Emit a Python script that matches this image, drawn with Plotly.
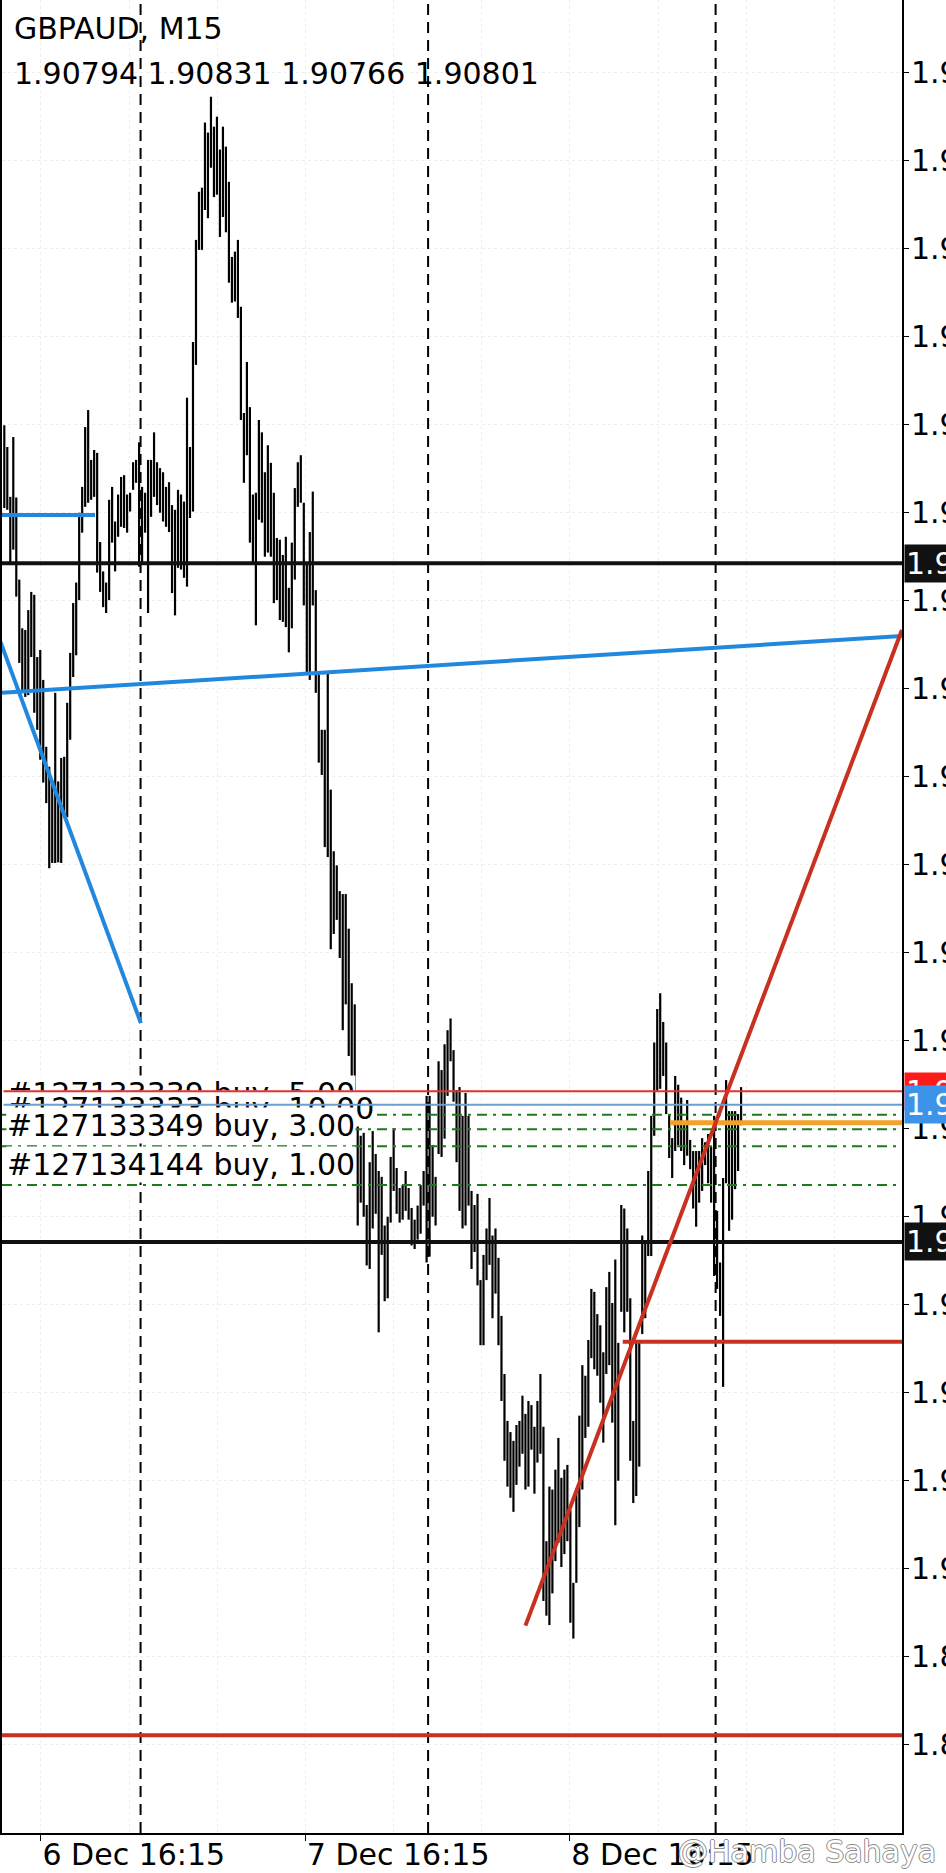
import plotly.graph_objects as go

# ---------------- data ----------------
symbol = "GBPAUD, M15"
last_ohlc = [1.90794, 1.90831, 1.90766, 1.90801]  # open, high, low, close of last bar

highs = [
    1.91959, 1.91922, 1.91837, 1.91939, 1.91836, 1.91696, 1.91613, 1.91610, 1.91644, 1.91675,
    1.91670, 1.91564, 1.91576, 1.91525, 1.91411, 1.91377, 1.91350, 1.91503, 1.91352, 1.91392,
    1.91394, 1.91486, 1.91571, 1.91656, 1.91691, 1.91810, 1.91854, 1.91956, 1.91985, 1.91900,
    1.91917, 1.91912, 1.91760, 1.91710, 1.91691, 1.91832, 1.91854, 1.91795, 1.91841, 1.91871,
    1.91874, 1.91841, 1.91844, 1.91896, 1.91900, 1.91930, 1.91854, 1.91844, 1.91900, 1.91900,
    1.91947, 1.91896, 1.91886, 1.91879, 1.91854, 1.91862, 1.91823, 1.91815, 1.91849, 1.91841,
    1.91829, 1.92006, 1.91922, 1.92101, 1.92275, 1.92357, 1.92364, 1.92475, 1.92458, 1.92519,
    1.92468, 1.92485, 1.92429, 1.92468, 1.92434, 1.92374, 1.92246, 1.92255, 1.92275, 1.92161,
    1.91980, 1.92067, 1.91990, 1.91841, 1.91844, 1.91968, 1.91947, 1.91879, 1.91925, 1.91895,
    1.91844, 1.91767, 1.91764, 1.91738, 1.91769, 1.91682, 1.91759, 1.91852, 1.91896, 1.91908,
    1.91827, 1.91726, 1.91777, 1.91846, 1.91678, 1.91537, 1.91440, 1.91440, 1.91537, 1.91338,
    1.91233, 1.91209, 1.91165, 1.91160, 1.91160, 1.91101, 1.91008, 1.90972, 1.90816, 1.90748,
    1.90753, 1.90630, 1.90703, 1.90756, 1.90717, 1.90688, 1.90678, 1.90595, 1.90610, 1.90712,
    1.90761, 1.90693, 1.90659, 1.90664, 1.90688, 1.90659, 1.90625, 1.90605, 1.90629, 1.90664,
    1.90688, 1.90816, 1.90816, 1.90732, 1.90678, 1.90875, 1.90860, 1.90904, 1.90928, 1.90948,
    1.90894, 1.90826, 1.90831, 1.90782, 1.90821, 1.90782, 1.90654, 1.90630, 1.90649, 1.90502,
    1.90545, 1.90590, 1.90642, 1.90578, 1.90590, 1.90540, 1.90441, 1.90342, 1.90262, 1.90243,
    1.90228, 1.90255, 1.90262, 1.90305, 1.90274, 1.90296, 1.90289, 1.90252, 1.90296, 1.90342,
    1.90252, 1.90057, 1.90150, 1.90145, 1.90179, 1.90233, 1.90165, 1.90179, 1.90187, 1.90110,
    1.89986, 1.90141, 1.90271, 1.90357, 1.90339, 1.90400, 1.90487, 1.90482, 1.90444, 1.90425,
    1.90379, 1.90490, 1.90516, 1.90463, 1.90537, 1.90395, 1.90630, 1.90624, 1.90590, 1.90471,
    1.90262, 1.90400, 1.90400, 1.90578, 1.90566, 1.90688, 1.90782, 1.90907, 1.90964, 1.90991,
    1.90942, 1.90907, 1.90785, 1.90744, 1.90850, 1.90835, 1.90813, 1.90772, 1.90809, 1.90741,
    1.90722, 1.90722, 1.90722, 1.90744, 1.90737, 1.90751, 1.90729, 1.90782, 1.90620, 1.90532,
    1.90676, 1.90843, 1.90790, 1.90790, 1.90790, 1.90785, 1.90831,
]

lows = [
    1.91818, 1.91815, 1.91725, 1.91747, 1.91667, 1.91554, 1.91508, 1.91496, 1.91499, 1.91564,
    1.91469, 1.91440, 1.91389, 1.91350, 1.91315, 1.91204, 1.91213, 1.91213, 1.91214, 1.91213,
    1.91291, 1.91291, 1.91423, 1.91530, 1.91567, 1.91661, 1.91776, 1.91820, 1.91827, 1.91832,
    1.91837, 1.91708, 1.91675, 1.91649, 1.91639, 1.91661, 1.91759, 1.91710, 1.91769, 1.91786,
    1.91784, 1.91776, 1.91812, 1.91849, 1.91861, 1.91718, 1.91725, 1.91776, 1.91639, 1.91803,
    1.91837, 1.91823, 1.91810, 1.91795, 1.91786, 1.91777, 1.91673, 1.91635, 1.91716, 1.91713,
    1.91699, 1.91684, 1.91801, 1.91812, 1.92062, 1.92258, 1.92258, 1.92326, 1.92312, 1.92398,
    1.92348, 1.92352, 1.92280, 1.92314, 1.92288, 1.92202, 1.92168, 1.92170, 1.92142, 1.91968,
    1.91861, 1.91908, 1.91759, 1.91725, 1.91618, 1.91798, 1.91793, 1.91735, 1.91742, 1.91735,
    1.91656, 1.91661, 1.91627, 1.91624, 1.91615, 1.91572, 1.91613, 1.91696, 1.91820, 1.91827,
    1.91652, 1.91537, 1.91525, 1.91652, 1.91503, 1.91384, 1.91363, 1.91240, 1.91223, 1.91066,
    1.91092, 1.91116, 1.91051, 1.90928, 1.90972, 1.90884, 1.90839, 1.90806, 1.90595, 1.90634,
    1.90610, 1.90527, 1.90521, 1.90590, 1.90615, 1.90413, 1.90545, 1.90466, 1.90471, 1.90600,
    1.90654, 1.90615, 1.90600, 1.90605, 1.90620, 1.90605, 1.90561, 1.90555, 1.90571, 1.90581,
    1.90629, 1.90532, 1.90542, 1.90610, 1.90595, 1.90717, 1.90712, 1.90743, 1.90816, 1.90875,
    1.90806, 1.90703, 1.90620, 1.90590, 1.90595, 1.90629, 1.90521, 1.90550, 1.90493, 1.90391,
    1.90391, 1.90502, 1.90528, 1.90437, 1.90479, 1.90391, 1.90296, 1.90194, 1.90150, 1.90131,
    1.90107, 1.90153, 1.90184, 1.90206, 1.90145, 1.90150, 1.90213, 1.90138, 1.90191, 1.90206,
    1.89955, 1.89930, 1.89914, 1.89968, 1.90023, 1.90054, 1.90013, 1.90035, 1.90057, 1.89918,
    1.89891, 1.89986, 1.90081, 1.90145, 1.90233, 1.90252, 1.90369, 1.90350, 1.90339, 1.90293,
    1.90225, 1.90342, 1.90357, 1.90259, 1.90084, 1.90160, 1.90448, 1.90413, 1.90448, 1.90194,
    1.90122, 1.90134, 1.90184, 1.90410, 1.90437, 1.90543, 1.90543, 1.90748, 1.90825, 1.90828,
    1.90850, 1.90785, 1.90710, 1.90676, 1.90722, 1.90732, 1.90722, 1.90698, 1.90714, 1.90691,
    1.90624, 1.90593, 1.90634, 1.90654, 1.90698, 1.90667, 1.90634, 1.90509, 1.90487, 1.90441,
    1.90320, 1.90667, 1.90586, 1.90605, 1.90657, 1.90688, 1.90766,
]

# time axis (bar index based)
day_separator_bars = [46, 142, 238]
time_tick_pos = [12.25, 100.5, 188.8]
time_tick_text = ["6 Dec 16:15", "7 Dec 16:15", "8 Dec 16:15"]

# price axis
price_ticks = [1.8971, 1.8986, 1.9001, 1.9016, 1.9031, 1.9046, 1.9061, 1.9076, 1.9091, 1.9106,
               1.9121, 1.9136, 1.9151, 1.9166, 1.9181, 1.9196, 1.9211, 1.9226, 1.9241, 1.9256]
price_tick_text = ["%.5f" % v for v in price_ticks]

# horizontal objects
black_levels = [1.91724, 1.90567]
red_bottom_level = 1.89726
red_ray = [206.5, 1.90397]       # start bar, price
orange_ray = [222.3, 1.90770]    # start bar, price
blue_segment = [-1.0, 30.3, 1.91806]
bid_price = 1.90801
ask_price = 1.90824

# trend lines: (bar0, price0, bar1, price1)
blue_trend_long = [-0.77, 1.91503, 299.7, 1.91600]
blue_trend_short = [-1.44, 1.91592, 45.6, 1.90940]
red_trend = [174.0, 1.89913, 299.7, 1.91610]

# open orders
order_tickets = ["#127133339", "#127133333", "#127133349", "#127134144"]
order_volumes = [5.00, 10.00, 3.00, 1.00]
order_prices = [1.90784, 1.90759, 1.90730, 1.90664]

watermark = "@Hamba Sahaya"

# ---------------- figure ----------------
FONT = "DejaVu Sans"
X_RANGE = [-0.768, 299.73]
Y_RANGE = [1.895596, 1.926839]

xs, ys = [], []
for i, (h, l) in enumerate(zip(highs, lows)):
    xs += [i, i, None]
    ys += [h, l, None]

fig = go.Figure()
fig.add_trace(go.Scatter(x=xs, y=ys, mode="lines",
                         line=dict(color="black", width=2.2),
                         hoverinfo="skip", showlegend=False))

shapes = []
# green order lines (below label backgrounds)
for p in order_prices:
    shapes.append(dict(type="line", xref="paper", x0=0, x1=1, yref="y", y0=p, y1=p,
                       line=dict(color="#1f7a1f", width=2, dash="10px,6px,3px,6px")))
# day separators
for b in day_separator_bars:
    shapes.append(dict(type="line", xref="x", x0=b - 0.5, x1=b - 0.5, yref="paper", y0=0, y1=1,
                       line=dict(color="black", width=2, dash="11px,7px")))
# black horizontal lines
for p in black_levels:
    shapes.append(dict(type="line", xref="paper", x0=0, x1=1, yref="y", y0=p, y1=p,
                       line=dict(color="#111111", width=4)))
shapes.append(dict(type="line", xref="paper", x0=0, x1=1, yref="y",
                   y0=red_bottom_level, y1=red_bottom_level,
                   line=dict(color="#c8301f", width=4)))
shapes.append(dict(type="line", xref="x", x0=red_ray[0], x1=X_RANGE[1], yref="y",
                   y0=red_ray[1], y1=red_ray[1], line=dict(color="#c8301f", width=4)))
shapes.append(dict(type="line", xref="x", x0=orange_ray[0], x1=X_RANGE[1], yref="y",
                   y0=orange_ray[1], y1=orange_ray[1], line=dict(color="#f2a12a", width=5)))
shapes.append(dict(type="line", xref="x", x0=blue_segment[0], x1=blue_segment[1], yref="y",
                   y0=blue_segment[2], y1=blue_segment[2], line=dict(color="#2288dd", width=4)))
for t, c in [(blue_trend_long, "#2288dd"), (blue_trend_short, "#2288dd"), (red_trend, "#c8301f")]:
    shapes.append(dict(type="line", xref="x", yref="y", x0=t[0], y0=t[1], x1=t[2], y1=t[3],
                       line=dict(color=c, width=4)))

annotations = []
# header
annotations.append(dict(text=symbol, xref="paper", yref="paper", x=10 / 900, y=1 - 28.7 / 1833,
                        xanchor="left", yanchor="middle", showarrow=False,
                        font=dict(family=FONT, size=30, color="black")))
annotations.append(dict(text=" ".join("%.5f" % v for v in last_ohlc), xref="paper", yref="paper",
                        x=10 / 900, y=1 - 74 / 1833, xanchor="left", yanchor="middle",
                        showarrow=False, font=dict(family=FONT, size=30, color="black")))
# order labels (white backgrounds overlap the previous row)
for tk, vol, p in zip(order_tickets, order_volumes, order_prices):
    annotations.append(dict(text="%s buy, %.2f" % (tk, vol), xref="paper", yref="y",
                            x=4 / 900, y=p, xanchor="left", yanchor="middle", yshift=21,
                            showarrow=False, bgcolor="white", borderpad=0,
                            font=dict(family=FONT, size=30, color="black")))
# ask / bid lines drawn above labels
for p, c in [(ask_price, "#e53030"), (bid_price, "#6a9fd4")]:
    annotations.append(dict(text="", xref="paper", yref="y", x=1, y=p, ax=-900, ay=0,
                            showarrow=True, arrowhead=0, arrowwidth=2, arrowcolor=c,
                            standoff=0, startstandoff=0))
# right price boxes
for p, bg in [(black_levels[0], "#111111"), (ask_price, "#ff1a1a"), (bid_price, "#3d93e8"),
              (black_levels[1], "#111111")]:
    annotations.append(dict(text="%.5f" % p, xref="paper", yref="y", x=902 / 900, y=p,
                            xanchor="left", yanchor="middle", showarrow=False,
                            bgcolor=bg, borderpad=1,
                            font=dict(family=FONT, size=30, color="white")))
# watermark
annotations.append(dict(text=watermark, xref="paper", yref="paper", x=936 / 900,
                        y=-(1851 - 1833) / 1833, xanchor="right", yanchor="middle",
                        showarrow=False,
                        font=dict(family=FONT, size=30, color="white",
                                  shadow="1px 0 0 #8a8a8a, -1px 0 0 #8a8a8a, 0 1px 0 #8a8a8a, 0 -1px 0 #8a8a8a")))

fig.update_layout(
    width=946, height=1873,
    margin=dict(l=2, r=44, t=0, b=40, autoexpand=False),
    plot_bgcolor="white", paper_bgcolor="white",
    font=dict(family=FONT, size=30, color="black"),
    shapes=shapes, annotations=annotations, showlegend=False,
    xaxis=dict(range=X_RANGE, showline=True, linecolor="black", linewidth=2, mirror=False,
               ticks="outside", ticklen=6, tickcolor="black", tickwidth=1,
               tickvals=time_tick_pos, ticktext=time_tick_text, ticklabelstandoff=-6,
               ticklabelposition="outside right", tickfont=dict(family=FONT, size=30, color="black"),
               showgrid=True, gridcolor="#eeeeee", griddash="dot", zeroline=False,
               minor=dict(tick0=time_tick_pos[0], dtick=29.43, showgrid=True,
                          gridcolor="#eeeeee", griddash="dot", ticks="")),
    yaxis=dict(range=Y_RANGE, side="right", showline=True, linecolor="black", linewidth=2,
               mirror=True, ticks="outside", ticklen=5, tickcolor="black", tickwidth=1,
               tickvals=price_ticks, ticktext=price_tick_text, ticklabelstandoff=-4,
               tickfont=dict(family=FONT, size=30, color="black"),
               showgrid=True, gridcolor="#eeeeee", griddash="dot", zeroline=False),
)

fig.write_html("out.html", config={"displayModeBar": False},
               post_script="document.body.style.margin='0';document.body.style.overflow='hidden';")
